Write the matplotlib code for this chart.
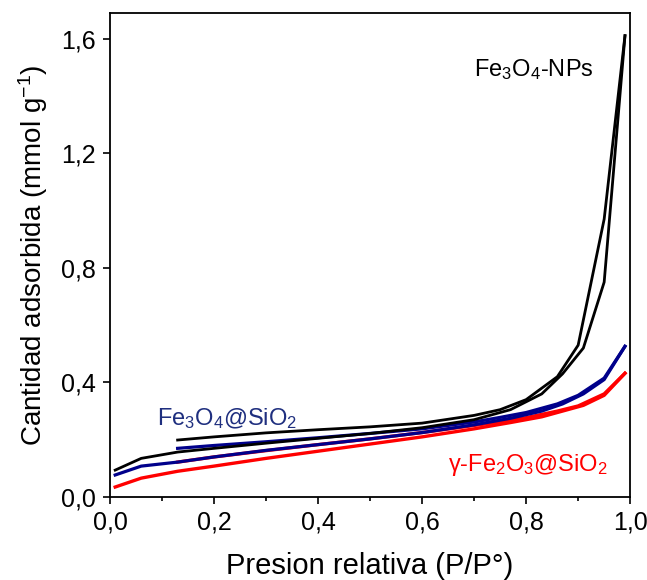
import matplotlib
matplotlib.use('Agg')
import matplotlib.pyplot as plt
from matplotlib import rcParams
from matplotlib.ticker import MultipleLocator, FuncFormatter

rcParams['font.family'] = ['Liberation Sans', 'DejaVu Sans']
rcParams['mathtext.fontset'] = 'custom'
rcParams['mathtext.rm'] = 'Liberation Sans'
rcParams['mathtext.it'] = 'Liberation Sans'

# relative pressure grid (adsorption branch, then desorption branch)
p_ads = [0.01, 0.06, 0.13, 0.2, 0.3, 0.4, 0.5, 0.6, 0.7, 0.77, 0.83, 0.87, 0.91, 0.95, 0.99]
p_des = [0.99, 0.95, 0.90, 0.86, 0.80, 0.75, 0.7, 0.6, 0.5, 0.4, 0.3, 0.2, 0.13]

# Fe3O4 nanoparticles
np_ads = [0.094, 0.135, 0.157, 0.170, 0.188, 0.205, 0.222, 0.242, 0.270, 0.305, 0.36, 0.43, 0.52, 0.75, 1.61]
np_des = [1.61, 0.97, 0.53, 0.42, 0.34, 0.305, 0.285, 0.258, 0.245, 0.235, 0.224, 0.210, 0.199]

# Fe3O4@SiO2
fs_ads = [0.077, 0.108, 0.122, 0.140, 0.163, 0.183, 0.203, 0.225, 0.252, 0.275, 0.300, 0.325, 0.360, 0.410, 0.526]
fs_des = [0.526, 0.415, 0.355, 0.325, 0.295, 0.278, 0.262, 0.238, 0.222, 0.207, 0.193, 0.180, 0.170]

# gamma-Fe2O3@SiO2
gs_ads = [0.035, 0.066, 0.090, 0.108, 0.135, 0.160, 0.185, 0.210, 0.238, 0.260, 0.280, 0.300, 0.320, 0.355, 0.432]
gs_des = [0.432, 0.360, 0.318, 0.300, 0.277, 0.262, 0.250, 0.225, 0.203, 0.183, 0.162, 0.140, 0.122]

BLUE = '#00008b'
RED = '#ff0000'

fig = plt.figure(figsize=(6.47, 5.80), dpi=100)
ax = fig.add_axes([0.170, 0.143, 0.804, 0.835])

ax.plot(p_ads, gs_ads, color=RED, lw=2.4)
ax.plot(p_des, gs_des, color=RED, lw=2.4)
ax.plot(p_ads, fs_ads, color=BLUE, lw=2.3)
ax.plot(p_des, fs_des, color=BLUE, lw=2.3)
ax.plot(p_ads, np_ads, color='black', lw=2.0)
ax.plot(p_des, np_des, color='black', lw=2.0)

ax.set_xlim(0, 1.0)
ax.set_ylim(0, 1.69)

ax.xaxis.set_major_locator(MultipleLocator(0.2))
ax.xaxis.set_minor_locator(MultipleLocator(0.1))
ax.yaxis.set_major_locator(MultipleLocator(0.4))
comma = FuncFormatter(lambda v, pos: f'{v:.1f}'.replace('.', ','))
ax.xaxis.set_major_formatter(comma)
ax.yaxis.set_major_formatter(comma)

ax.tick_params(which='major', direction='out', length=5, width=1.2, labelsize=18, pad=5)
ax.tick_params(which='minor', direction='out', length=3, width=1.2)
ax.tick_params(top=False, right=False)
for s in ax.spines.values():
    s.set_linewidth(1.3)

ax.set_xlabel('Presion relativa (P/P°)', fontsize=21, labelpad=12)
ax.set_ylabel('Cantidad adsorbida (mmol g$^{-1}$)', fontsize=20, labelpad=8)

ax.text(0.70, 1.47, 'Fe$_3$O$_4$-NPs', fontsize=17, color='black')
ax.text(0.09, 0.25, 'Fe$_3$O$_4$@SiO$_2$', fontsize=17, color='#1f2f7f')
ax.text(0.65, 0.09, 'γ-Fe$_2$O$_3$@SiO$_2$', fontsize=17, color=RED)

fig.savefig('out.png', dpi=100)
